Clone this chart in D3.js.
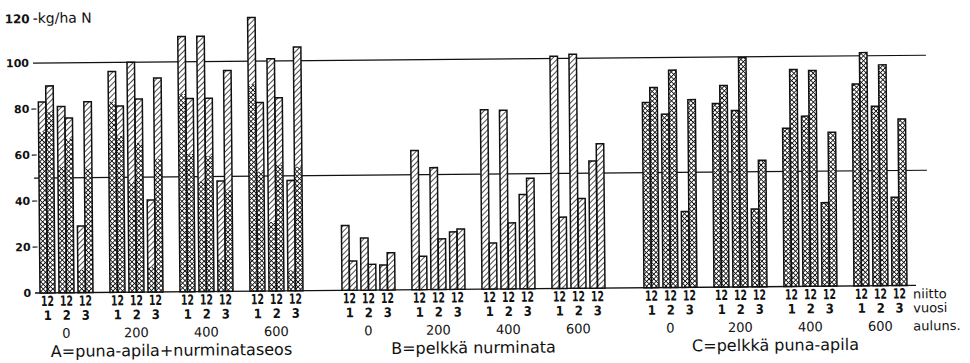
<!DOCTYPE html>
<html><head><meta charset="utf-8">
<script src="https://cdn.jsdelivr.net/npm/d3@7"></script>
<style>body{margin:0;background:#fff}</style>
</head><body><svg id="c" width="970" height="363"></svg>
<script>
const sections = ["A","B","C"];
const sectionLabels = ["A=puna-apila+nurminataseos","B=pelkkä nurminata","C=pelkkä puna-apila"];
const levels = ["0","200","400","600"];
const years = ["1","2","3"];
const cuts = ["1","2"];
const yTicks = [0,20,40,60,80,100];
const refLines = [50,100];
const rowLabels = ["niitto","vuosi","auluns."];
// order of every series: level -> year -> cut
const aClover = [70,79, 55,67, 10,54,  83,68, 48,65, 11,58,  86,60, 48,59, 14,44,  90,52, 30,55, 9,54];
const aTotal  = [83,90, 81,76, 29,83,  96,81, 100,84, 40,93,  111,84, 111,84, 48,96,  119,82, 101,84, 48,106];
const bGrass  = [28.2,12.7, 22.7,11.2, 10.9,16.2,  60.5,14.5, 53,22, 25,26.2,  78,20, 77.7,28.7, 41,48,  101,31, 101.8,39, 55.3,62.8];
const cClover = [80.5,87, 75.4,94.5, 33,81.6,  79.8,87.6, 76.7,99.7, 33.8,55,  68.8,94.3, 74,93.8, 36.3,66.9,  87.8,101.4, 78,96, 38.4,72.4];

const svg = d3.select("#c");
const defs = svg.append("defs");
// diagonal hatch
const ph = defs.append("pattern").attr("id","hatch").attr("patternUnits","userSpaceOnUse")
  .attr("width",4).attr("height",4).attr("patternTransform","rotate(45)");
ph.append("rect").attr("width",4).attr("height",4).attr("fill","#fff");
ph.append("line").attr("x1",0).attr("y1",0).attr("x2",0).attr("y2",4).attr("stroke","#111").attr("stroke-width",1.5);
// cross hatch
const pc = defs.append("pattern").attr("id","cross").attr("patternUnits","userSpaceOnUse")
  .attr("width",3.4).attr("height",3.4).attr("patternTransform","rotate(45)");
pc.append("rect").attr("width",3.4).attr("height",3.4).attr("fill","#fff");
pc.append("line").attr("x1",0).attr("y1",0).attr("x2",0).attr("y2",3.4).attr("stroke","#111").attr("stroke-width",1.7);
pc.append("line").attr("x1",0).attr("y1",0).attr("x2",3.4).attr("y2",0).attr("stroke","#111").attr("stroke-width",1.7);

const g = svg.append("g").attr("transform","rotate(-0.5,40,293)");

const xSec = d3.scaleBand().domain(sections).range([40, 40+3*302]);
const xLev = d3.scaleBand().domain(levels).range([0, 280]);
const xYear = d3.scaleBand().domain(years).range([0, 57]);
const xCut = d3.scaleBand().domain(cuts).range([0, 15]);
const y = d3.scaleLinear().domain([0,120]).range([293, 17]);

const bars = [];
sections.forEach((s,si)=>levels.forEach((l,li)=>years.forEach((yr,yi)=>cuts.forEach((c,ci)=>{
  const i = li*6+yi*2+ci;
  const x = xSec(s)+xLev(l)+xYear(yr)+xCut(c);
  let low, total;
  if (s==="A"){ low=aClover[i]; total=aTotal[i]; }
  else if (s==="B"){ low=0; total=bGrass[i]; }
  else { low=cClover[i]; total=cClover[i]; }
  bars.push({x, low, total});
}))));

const lineFont = "'DejaVu Sans', sans-serif";
g.selectAll(".ref").data(refLines).join("line")
  .attr("x1",35).attr("x2",928).attr("y1",d=>y(d)).attr("y2",d=>y(d))
  .attr("stroke","#111").attr("stroke-width",1.2);
g.append("line").attr("x1",35).attr("x2",916).attr("y1",y(0)).attr("y2",y(0))
  .attr("stroke","#111").attr("stroke-width",1.4);

g.selectAll(".yl").data(yTicks).join("text")
  .attr("x",31).attr("y",d=>y(d)).attr("dy","0.36em").attr("text-anchor","end")
  .attr("font-family",lineFont).attr("font-weight","bold").attr("font-size",11).attr("fill","#111")
  .text(d=>d);
g.selectAll(".yt").data(yTicks.filter(d=>!refLines.includes(d) && d!==0)).join("line")
  .attr("x1",33).attr("x2",38).attr("y1",d=>y(d)).attr("y2",d=>y(d)).attr("stroke","#111").attr("stroke-width",1.2);
const topLabel = g.append("text").attr("x",7).attr("y",y(120)+6).attr("font-family",lineFont).attr("fill","#111");
topLabel.append("tspan").attr("font-weight","bold").attr("font-size",12).text("120");
topLabel.append("tspan").attr("font-size",14).attr("dx",3).text("-kg/ha N");

const bw = xCut.bandwidth();
g.selectAll(".seg1").data(bars.filter(d=>d.low>0)).join("rect")
  .attr("x",d=>d.x).attr("width",bw).attr("y",d=>y(d.low)).attr("height",d=>y(0)-y(d.low))
  .attr("fill","url(#cross)");
g.selectAll(".seg2").data(bars.filter(d=>d.total>d.low)).join("rect")
  .attr("x",d=>d.x).attr("width",bw).attr("y",d=>y(d.total)).attr("height",d=>y(d.low)-y(d.total))
  .attr("fill","url(#hatch)");
g.selectAll(".out").data(bars).join("rect")
  .attr("x",d=>d.x).attr("width",bw).attr("y",d=>y(d.total)).attr("height",d=>y(0)-y(d.total))
  .attr("fill","none").attr("stroke","#111").attr("stroke-width",1.5);

const smallFont = "'DejaVu Sans Condensed','DejaVu Sans',sans-serif";
const pairs = [];
sections.forEach(s=>levels.forEach(l=>years.forEach(yr=>{
  pairs.push({x: xSec(s)+xLev(l)+xYear(yr)+7.5, yr});
})));
g.selectAll(".pl").data(pairs).join("text")
  .attr("x",d=>d.x-6.5).attr("y",306)
  .attr("font-family",smallFont).attr("font-weight","bold").attr("font-size",14).attr("fill","#111")
  .attr("textLength",13).attr("lengthAdjust","spacingAndGlyphs")
  .text("12");
g.selectAll(".yrl").data(pairs).join("text")
  .attr("x",d=>d.x).attr("y",320).attr("text-anchor","middle")
  .attr("font-family",smallFont).attr("font-weight","bold").attr("font-size",13).attr("fill","#111")
  .text(d=>d.yr);
const levs = [];
sections.forEach(s=>levels.forEach(l=>levs.push({x:xSec(s)+xLev(l)+26, l})));
g.selectAll(".ll").data(levs).join("text")
  .attr("x",d=>d.x).attr("y",338).attr("text-anchor","middle")
  .attr("font-family",lineFont).attr("font-size",13).attr("fill","#111").text(d=>d.l);
g.selectAll(".sl").data(sections).join("text")
  .attr("x",(d)=>xSec(d)+131).attr("y",357).attr("text-anchor","middle")
  .attr("font-family",lineFont).attr("font-size",16).attr("fill","#111")
  .text((d,i)=>sectionLabels[i]);
g.selectAll(".rl").data(rowLabels).join("text")
  .attr("x",913).attr("y",(d,i)=>[306,320,338][i])
  .attr("font-family",lineFont)
  .attr("font-size",13).attr("fill","#111").text(d=>d);
</script></body></html>
